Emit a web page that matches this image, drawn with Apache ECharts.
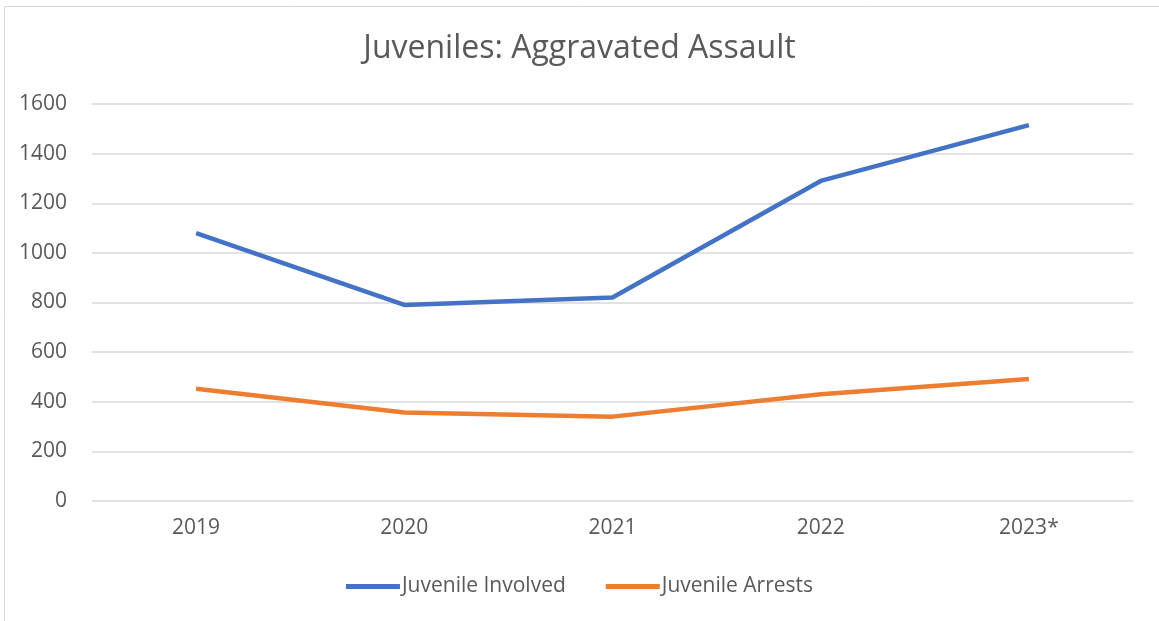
<!DOCTYPE html>
<html>
<head>
<meta charset="utf-8">
<script src="https://cdn.jsdelivr.net/npm/echarts@6/dist/echarts.min.js"></script>
<style>
html,body{margin:0;padding:0;background:#fff;}
#chart{width:1159px;height:621px;}
</style>
</head>
<body>
<div id="chart"></div>
<script>
const categories = ['2019', '2020', '2021', '2022', '2023*'];
const juvenileInvolved = [1080, 790, 820, 1290, 1515];
const juvenileArrests = [452, 357, 340, 430, 492];
const yTicks = {min: 0, max: 1600, interval: 200};

const chart = echarts.init(document.getElementById('chart'));
const font = '"Open Sans", "Noto Sans", sans-serif';
chart.setOption({
  backgroundColor: '#fff',
  animation: false,
  graphic: [{
    type: 'rect', silent: true,
    shape: {x: 4.5, y: 6.5, width: 1200, height: 700},
    style: {fill: 'none', stroke: '#d9d9d9', lineWidth: 1}
  }],
  title: {
    text: 'Juveniles: Aggravated Assault',
    left: 'center', top: 28,
    textStyle: {fontFamily: font, fontSize: 32, fontWeight: 'normal', color: '#595959'}
  },
  legend: {
    bottom: 19, left: 'center',
    itemWidth: 54, itemHeight: 5, itemGap: 40,
    icon: 'rect',
    textStyle: {fontFamily: font, fontSize: 21, color: '#595959', padding: [0,0,0,-3]},
    data: ['Juvenile Involved', 'Juvenile Arrests']
  },
  grid: {left: 92, right: 26, top: 104, bottom: 120},
  xAxis: {
    type: 'category', data: categories, boundaryGap: true,
    axisLine: {show: false}, axisTick: {show: false},
    axisLabel: {fontFamily: font, fontSize: 21, color: '#595959', margin: 17}
  },
  yAxis: {
    type: 'value', min: yTicks.min, max: yTicks.max, interval: yTicks.interval,
    axisLine: {show: false}, axisTick: {show: false},
    axisLabel: {fontFamily: font, fontSize: 21, color: '#595959', margin: 25,
                formatter: v => String(v)},
    splitLine: {lineStyle: {color: '#d9d9d9', width: 1.5}}
  },
  series: [
    {name: 'Juvenile Involved', type: 'line', data: juvenileInvolved, symbol: 'none',
     lineStyle: {color: '#4472C4', width: 4.5}, itemStyle: {color: '#4472C4'}},
    {name: 'Juvenile Arrests', type: 'line', data: juvenileArrests, symbol: 'none',
     lineStyle: {color: '#ED7D31', width: 4.5}, itemStyle: {color: '#ED7D31'}}
  ]
});
</script>
</body>
</html>
